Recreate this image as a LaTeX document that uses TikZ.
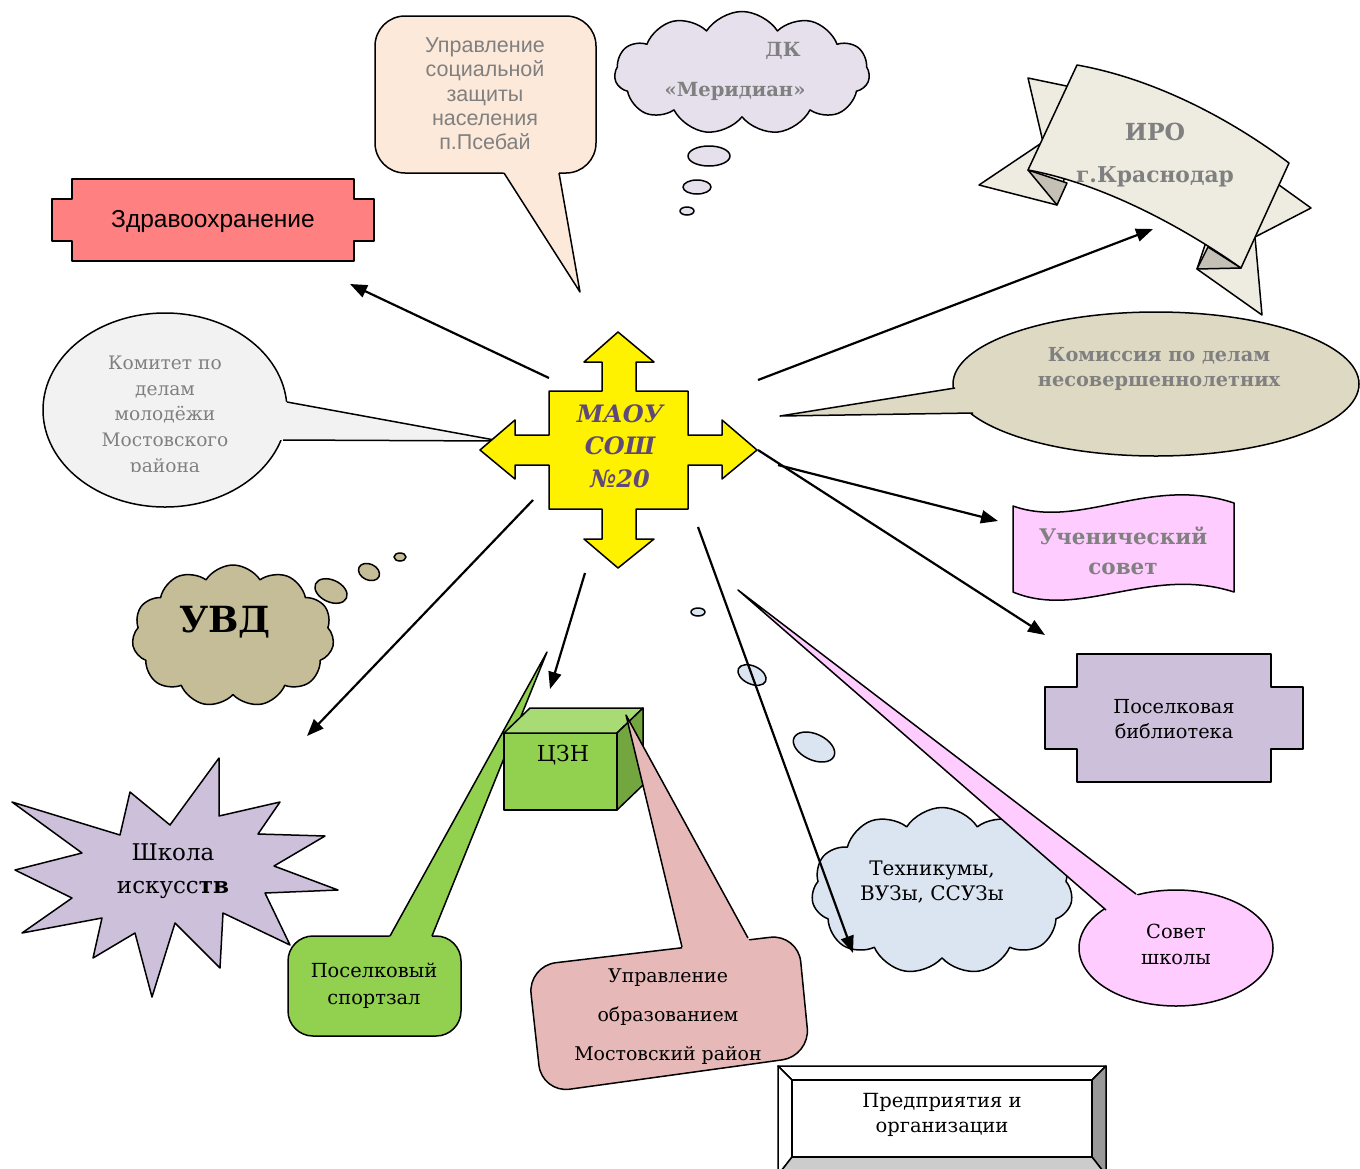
\documentclass[tikz,border=0pt]{standalone}
\usepackage{fontspec}
\setmainfont{DejaVu Serif}
\newfontfamily\arialf{Liberation Sans}
\usetikzlibrary{shapes.symbols,arrows.meta,calc}
\definecolor{maoucol}{HTML}{5F497A}
\definecolor{zdrav}{HTML}{FF8080}
\definecolor{peach}{HTML}{FDE9D9}
\definecolor{lav}{HTML}{E5E0EC}
\definecolor{ivory}{HTML}{EEECE1}
\definecolor{foldgray}{HTML}{C4C0B6}
\definecolor{komgray}{HTML}{F2F2F2}
\definecolor{komis}{HTML}{DDD9C3}
\definecolor{uvdcol}{HTML}{C4BD97}
\definecolor{starcol}{HTML}{CCC0DA}
\definecolor{grn}{HTML}{92D050}
\definecolor{grnlight}{HTML}{A9DB74}
\definecolor{grndark}{HTML}{74A640}
\definecolor{pinkcall}{HTML}{E6B9B8}
\definecolor{techblue}{HTML}{DBE5F1}
\definecolor{pinkl}{HTML}{FFCCFF}
\definecolor{txtgray}{HTML}{808080}
\tikzset{
  outl/.style={draw=black, line width=1.5pt, line join=round},
  conn/.style={line width=2.2pt, -{Triangle[length=17pt,width=13pt]}},
  lbl/.style={align=center, inner sep=0pt, text=black},
  gtext/.style={lbl, text=txtgray},
  cloudshape/.style={cloud, cloud puffs=11, cloud puff arc=115, outl, inner sep=0pt},
}
% tail: fill colour, tip, base1, base2
\newcommand{\calltail}[4]{%
  \fill[#1] (#2) -- ($(#2)!1.06!(#3)$) -- ($(#2)!1.06!(#4)$) -- cycle;
  \draw[outl] (#3) -- (#2) -- (#4);}
\begin{document}
\begin{tikzpicture}[x=1pt,y=-1pt]
\clip (0,0) rectangle (1360,1168);
\fill[white] (0,0) rectangle (1360,1168);

% ---------- Zdravookhranenie plaque
\draw[outl, fill=zdrav] (72,179) -- (354,179) -- (354,199) -- (374,199) -- (374,241) -- (354,241) -- (354,261) -- (72,261) -- (72,241) -- (52,241) -- (52,199) -- (72,199) -- cycle;
\node[lbl, font={\arialf\fontsize{24.5}{28}\selectfont}] (zdr) at (213,221) {Здравоохранение};

% ---------- Social protection callout
\draw[outl, fill=peach, rounded corners=30] (375,16) rectangle (596,173);
\coordinate (socTip) at (580,292); \coordinate (socB1) at (504,173); \coordinate (socB2) at (559,173);
\calltail{peach}{socTip}{socB1}{socB2}
\node[gtext, font={\arialf\fontsize{21.5}{24.3}\selectfont}] (soc) at (485,94) {Управление\\социальной\\защиты\\населения\\п.Псебай};

% ---------- DK Meridian cloud
\node[cloudshape, fill=lav, minimum width=255pt, minimum height=123pt, aspect=2.07] (dk) at (742,73) {};
\node[gtext, font={\bfseries\fontsize{19.5}{22}\selectfont}] (dkt) at (783,51) {ДК};
\node[gtext, font={\bfseries\fontsize{19.5}{22}\selectfont}] (dkm) at (735,91) {«Меридиан»};
\draw[outl, fill=lav] (709,156) ellipse [x radius=21, y radius=10];
\draw[outl, fill=lav] (697,187) ellipse [x radius=14, y radius=7];
\draw[outl, fill=lav] (687,211) ellipse [x radius=7, y radius=4];

% ---------- IRO ribbon
\draw[outl, fill=ivory] (1028,78) -- (1043,142) -- (979,185) -- (1057,205) -- (1072,150) -- (1076,88) -- cycle;
\draw[outl, fill=foldgray] (1028,170) -- (1057,205) -- (1067,183) -- cycle;
\draw[outl, fill=ivory] (1279,185) -- (1311,208) -- (1255,237) -- (1262,315) -- (1197,269) -- (1210,230) -- (1260,170) -- cycle;
\draw[outl, fill=foldgray] (1197,269) -- (1241,268) -- (1208,247) -- cycle;
\draw[outl, fill=ivory] (1077,65) .. controls (1150,78) and (1225,115) .. (1289,163) -- (1241,268) .. controls (1180,225) and (1100,183) .. (1028,170) -- cycle;
\node[gtext, font={\bfseries\fontsize{23.5}{26}\selectfont}] (iro) at (1155,132) {ИРО};
\node[gtext, font={\bfseries\fontsize{21.8}{24}\selectfont}] (irok) at (1155,177) {г.Краснодар};

% ---------- Komitet callout
\draw[outl, fill=komgray] (165,410) ellipse [x radius=122, y radius=97];
\coordinate (komTip) at (500,441); \coordinate (komB1) at (287,402); \coordinate (komB2) at (283,440);
\calltail{komgray}{komTip}{komB1}{komB2}
\begin{scope}
\clip (40,300) rectangle (300,471);
\node[gtext, font={\fontsize{18.6}{25.6}\selectfont}] (kom) at (165,416) {Комитет по\\делам\\молодёжи\\Мостовского\\района};
\end{scope}

% ---------- Komissiya callout
\draw[outl, fill=komis] (1156,384) ellipse [x radius=203, y radius=72];
\coordinate (ksTip) at (780,416); \coordinate (ksB1) at (955,388); \coordinate (ksB2) at (973,413);
\calltail{komis}{ksTip}{ksB1}{ksB2}
\node[gtext, font={\bfseries\fontsize{19.3}{25}\selectfont}] (komis) at (1159,369) {Комиссия по делам\\несовершеннолетних};

% ---------- UVD cloud
\node[cloudshape, fill=uvdcol, minimum width=202pt, minimum height=142pt, aspect=1.42] (uvd) at (233,636) {};
\node[lbl, font={\bfseries\fontsize{36}{40}\selectfont}] (uvdt) at (225,622) {УВД};
\draw[outl, fill=uvdcol, rotate around={-25:(331,591)}] (331,591) ellipse [x radius=17, y radius=11];
\draw[outl, fill=uvdcol, rotate around={-25:(369,572)}] (369,572) ellipse [x radius=11, y radius=8];
\draw[outl, fill=uvdcol] (400,557) ellipse [x radius=6, y radius=4];

% ---------- Shkola iskusstv star
\draw[outl, fill=starcol] (219,758) -- (219,816) -- (280,802) -- (258,834) -- (325,836) -- (274,866) -- (338,890) -- (265,893) -- (290,945) -- (223,913) -- (220,968) -- (175,923) -- (152,997) -- (135,933) -- (93,958) -- (102,918) -- (22,933) -- (72,898) -- (15,870) -- (82,853) -- (12,802) -- (120,835) -- (130,792) -- (170,825) -- cycle;
\node[lbl, font={\fontsize{23}{33}\selectfont}] (shk) at (173,871) {Школа\\искусс\textbf{тв}};

% ---------- Sportzal callout
\draw[outl, fill=grn, rounded corners=25] (288,936) rectangle (461,1036);
\coordinate (spTip) at (547,652); \coordinate (spB1) at (390,936); \coordinate (spB2) at (432,936);
\calltail{grn}{spTip}{spB1}{spB2}
\node[lbl, font={\fontsize{19.4}{27}\selectfont}] (sport) at (374,986) {Поселковый\\спортзал};

% ---------- CZN cube
\draw[outl, fill=grn] (504,733) rectangle (617,810);
\draw[outl, fill=grnlight] (504,733) -- (530,708) -- (643,708) -- (617,733) -- cycle;
\draw[outl, fill=grndark] (617,733) -- (643,708) -- (643,785) -- (617,810) -- cycle;
\node[lbl, font={\fontsize{22}{26}\selectfont}] (czn) at (563,755) {ЦЗН};

% ---------- Upravlenie obrazovaniem callout
\draw[outl, fill=pinkcall, rounded corners=28] (528,966) -- (798,934) -- (810,1056) -- (542,1093) -- cycle;
\coordinate (uoTip) at (626,715); \coordinate (uoB1) at (682,947); \coordinate (uoB2) at (748,938);
\calltail{pinkcall}{uoTip}{uoB1}{uoB2}
\node[lbl, font={\fontsize{18.9}{39}\selectfont}] (uo) at (668,1017) {Управление\\образованием\\Мостовский район};

% ---------- Tekhnikumy cloud
\node[cloudshape, fill=techblue, minimum width=261pt, minimum height=167pt, aspect=1.56] (tech) at (942,891) {};
\node[lbl, font={\fontsize{20}{25}\selectfont}] (techt) at (932,882) {Техникумы,\\ВУЗы, ССУЗы};
\draw[outl, fill=techblue] (698,612) ellipse [x radius=7, y radius=4];
\draw[outl, fill=techblue, rotate around={-25:(752,675)}] (752,675) ellipse [x radius=15, y radius=9];
\draw[outl, fill=techblue, rotate around={-25:(814,747)}] (814,747) ellipse [x radius=22, y radius=13];

% ---------- Sovet shkoly callout
\draw[outl, fill=pinkl] (1176,948) ellipse [x radius=97, y radius=58];
\coordinate (svTip) at (738,590); \coordinate (svB1) at (1106,910); \coordinate (svB2) at (1136,894);
\calltail{pinkl}{svTip}{svB1}{svB2}
\node[lbl, font={\fontsize{19.4}{26}\selectfont}] (sovet) at (1176,944) {Совет\\школы};

% ---------- Uchenicheskiy sovet wave
\draw[outl, fill=pinkl] (1013,506) .. controls (1080,530) and (1150,475) .. (1234,503) -- (1234,592) .. controls (1150,565) and (1080,620) .. (1013,592) -- cycle;
\node[gtext, font={\bfseries\fontsize{21.5}{30}\selectfont}] (uch) at (1123,551) {Ученический\\совет};

% ---------- Library plaque
\draw[outl, fill=starcol] (1077,654) -- (1271,654) -- (1271,687) -- (1303,687) -- (1303,749) -- (1271,749) -- (1271,782) -- (1077,782) -- (1077,749) -- (1045,749) -- (1045,687) -- (1077,687) -- cycle;
\node[lbl, font={\fontsize{19.3}{25}\selectfont}] (bibl) at (1174,719) {Поселковая\\библиотека};

% ---------- Predpriyatiya bevel box
\draw[outl, fill=white] (778,1066) -- (1106,1066) -- (1092,1080) -- (792,1080) -- cycle;
\draw[outl, fill=white] (778,1066) -- (792,1080) -- (792,1157) -- (778,1175) -- cycle;
\draw[outl, fill=black!40] (1106,1066) -- (1092,1080) -- (1092,1157) -- (1106,1175) -- cycle;
\draw[outl, fill=black!20] (792,1157) -- (1092,1157) -- (1106,1175) -- (778,1175) -- cycle;
\draw[outl, fill=white] (792,1080) rectangle (1092,1157);
\node[lbl, font={\fontsize{19.5}{25}\selectfont}] (pred) at (942,1115) {Предприятия и\\организации};

% ---------- Central cross
\draw[outl, fill=yellow] (618,332) -- (654,362) -- (636,362) -- (636,391) -- (688,391) -- (688,435) -- (722,435) -- (722,420) -- (757,450) -- (722,479) -- (722,465) -- (688,465) -- (688,509) -- (636,509) -- (636,539) -- (654,539) -- (618,568) -- (584,539) -- (602,539) -- (602,509) -- (549,509) -- (549,465) -- (515,465) -- (515,479) -- (480,450) -- (515,420) -- (515,435) -- (549,435) -- (549,391) -- (602,391) -- (602,362) -- (584,362) -- cycle;
\node[lbl, text=maoucol, font={\bfseries\itshape\fontsize{24}{32.5}\selectfont}] (maou) at (620,446) {МАОУ\\СОШ\\№20};

% ---------- Connectors
\coordinate (s1) at (549,378); \coordinate (e1) at (350,284);
\coordinate (s2) at (758,380); \coordinate (e2) at (1153,229);
\coordinate (s3) at (533,500); \coordinate (e3) at (307,736);
\coordinate (s4) at (585,573); \coordinate (e4) at (550,689);
\coordinate (s5) at (698,527); \coordinate (e5) at (853,953);
\coordinate (s6) at (778,465); \coordinate (e6) at (998,521);
\coordinate (s7) at (758,450); \coordinate (e7) at (1045,635);
\draw[conn] (s1) -- (e1);
\draw[conn] (s2) -- (e2);
\draw[conn] (s3) -- (e3);
\draw[conn] (s4) -- (e4);
\draw[conn] (s5) -- (e5);
\draw[conn] (s6) -- (e6);
\draw[conn] (s7) -- (e7);
\end{tikzpicture}
\end{document}
